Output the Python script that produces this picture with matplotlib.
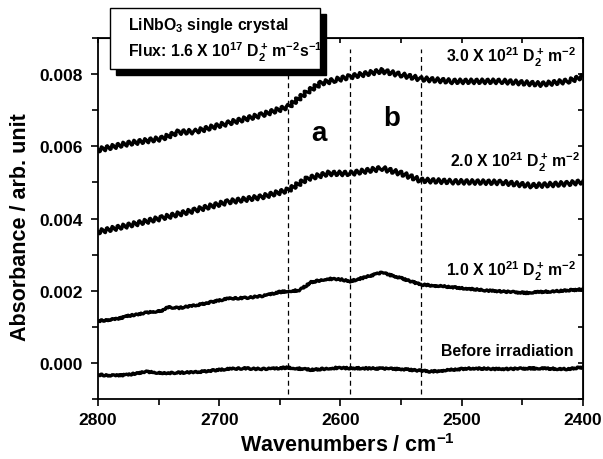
import matplotlib
matplotlib.use("Agg")
import matplotlib.pyplot as plt
from matplotlib.patches import Rectangle
from matplotlib.ticker import MultipleLocator, FormatStrFormatter

plt.rcParams['font.family'] = 'Liberation Sans'
plt.rcParams['font.weight'] = 'bold'
plt.rcParams['mathtext.fontset'] = 'custom'
plt.rcParams['mathtext.rm'] = 'Liberation Sans:bold'
plt.rcParams['mathtext.it'] = 'Liberation Sans:bold'
plt.rcParams['mathtext.bf'] = 'Liberation Sans:bold'
plt.rcParams['mathtext.sf'] = 'Liberation Sans:bold'
plt.rcParams['mathtext.default'] = 'rm'

# Data (wavenumber in cm-1, absorbance)
wn_30 = [2800, 2775, 2747, 2734, 2720, 2693, 2665, 2643, 2627, 2616, 2604,
         2592, 2566, 2550, 2534, 2508, 2467, 2434, 2412, 2400]
abs_30 = [0.0059, 0.00608, 0.00622, 0.00639, 0.00641, 0.00664, 0.00687, 0.0071,
          0.00752, 0.00775, 0.00784, 0.00793, 0.00809, 0.00798, 0.00787, 0.0078,
          0.0078, 0.00772, 0.00781, 0.00793]

wn_20 = [2800, 2775, 2747, 2720, 2693, 2665, 2643, 2627, 2610, 2592, 2566,
         2550, 2534, 2508, 2467, 2442, 2412, 2400]
abs_20 = [0.00363, 0.00381, 0.00402, 0.00423, 0.00446, 0.0046, 0.00479, 0.00511,
          0.00525, 0.00525, 0.00539, 0.00525, 0.00506, 0.00502, 0.005, 0.00491,
          0.00497, 0.00502]

wn_10 = [2800, 2784, 2775, 2761, 2747, 2743, 2734, 2720, 2706, 2693, 2679,
         2665, 2651, 2643, 2634, 2624, 2610, 2599, 2592, 2579, 2566, 2550,
         2534, 2508, 2481, 2447, 2412, 2400]
abs_10 = [0.00116, 0.00122, 0.0013, 0.00139, 0.00145, 0.00155, 0.00152, 0.00159,
          0.00169, 0.00178, 0.0018, 0.00185, 0.00196, 0.00199, 0.00201, 0.00224,
          0.00233, 0.00231, 0.00226, 0.00238, 0.0025, 0.00235, 0.00217, 0.0021,
          0.00201, 0.00194, 0.00201, 0.00204]

wn_00 = [2800, 2787, 2775, 2761, 2747, 2720, 2706, 2693, 2679, 2665, 2643,
         2624, 2604, 2579, 2550, 2525, 2494, 2467, 2442, 2412, 2400]
abs_00 = [-0.00033, -0.00035, -0.00033, -0.00024, -0.00028, -0.00026, -0.00021,
          -0.00017, -0.00015, -0.00017, -0.00013, -0.00019, -0.00014, -0.00015,
          -0.00017, -0.00024, -0.00015, -0.00017, -0.00015, -0.00017, -0.00012]

band_edges = [2643, 2592, 2534]

fig = plt.figure(figsize=(6.03, 4.60), dpi=100)
ax = fig.add_axes([0.1625, 0.1304, 0.8043, 0.7848])

# fluence curves: interference fringes drawn as a regular wiggle
for wn, ab in [(wn_30, abs_30), (wn_20, abs_20)]:
    line, = ax.plot(wn, ab, color='black', lw=2.4, solid_joinstyle='round')
    line.set_sketch_params(scale=2.3, length=5.5, randomness=1.0)
for wn, ab in [(wn_10, abs_10), (wn_00, abs_00)]:
    line, = ax.plot(wn, ab, color='black', lw=2.4, solid_joinstyle='round')
    line.set_sketch_params(scale=0.8, length=4.0, randomness=3.0)

for x in band_edges:
    ax.plot([x, x], [-0.00085, 0.0087], color='black', lw=0.9,
            ls=(0, (4, 3)), zorder=1)

ax.set_xlim(2800, 2400)
ax.set_ylim(-0.001, 0.009)
ax.xaxis.set_major_locator(MultipleLocator(100))
ax.xaxis.set_minor_locator(MultipleLocator(50))
ax.yaxis.set_major_locator(MultipleLocator(0.002))
ax.yaxis.set_minor_locator(MultipleLocator(0.001))
ax.yaxis.set_major_formatter(FormatStrFormatter('%.3f'))
ax.tick_params(which='major', direction='out', length=5, width=1.2,
               labelsize=12.5)
ax.tick_params(which='minor', direction='out', length=4, width=1.2)
ax.tick_params(axis='x', pad=4.5)
ax.tick_params(axis='y', pad=6)
for s in ax.spines.values():
    s.set_linewidth(1.3)

# inward ticks on the top and right axes
top = ax.secondary_xaxis('top')
top.xaxis.set_major_locator(MultipleLocator(50))
top.tick_params(direction='in', length=3.5, width=1.2, labeltop=False)
right = ax.secondary_yaxis('right')
right.yaxis.set_major_locator(MultipleLocator(0.001))
right.tick_params(direction='in', length=3.5, width=1.2, labelright=False)

ax.set_xlabel('Wavenumbers / cm$^{-1}$', fontsize=15.5, fontweight='bold',
              va='baseline')
ax.set_ylabel('Absorbance / arb. unit', fontsize=15.5, fontweight='bold',
              va='baseline')
ax.xaxis.set_label_coords(0.515, -0.144)
ax.yaxis.set_label_coords(-0.1485, 0.479)

# curve labels
lab_size = 11.4
unit = r'D$_2^+\,$m$^{-2}$'
ax.text(2513, 0.00836, '3.0 X 10$^{21}$ ' + unit, fontsize=lab_size)
ax.text(2510, 0.00545, '2.0 X 10$^{21}$ ' + unit, fontsize=lab_size)
ax.text(2513, 0.00243, '1.0 X 10$^{21}$ ' + unit, fontsize=lab_size)
ax.text(2517, 0.00022, 'Before irradiation', fontsize=lab_size)

ax.text(2618, 0.00637, 'a', fontsize=20, ha='center', va='center')
ax.text(2558, 0.00678, 'b', fontsize=20, ha='center', va='center')

# info box with drop shadow (figure coordinates)
fig.add_artist(Rectangle((116 / 603, 1 - 76 / 460), 210 / 603, 61 / 460,
                         transform=fig.transFigure, facecolor='black',
                         edgecolor='black', zorder=5))
fig.add_artist(Rectangle((110 / 603, 1 - 70 / 460), 210 / 603, 61 / 460,
                         transform=fig.transFigure, facecolor='white',
                         edgecolor='black', lw=1.0, zorder=6))
fig.text(128 / 603, 1 - 30 / 460, 'LiNbO$_3$ single crystal', fontsize=lab_size,
         zorder=7)
fig.text(128 / 603, 1 - 58 / 460,
         r'Flux: 1.6 X 10$^{17}$ D$_2^+\,$m$^{-2}$s$^{-1}$', fontsize=lab_size,
         zorder=7)

fig.savefig('out.png', dpi=100)
